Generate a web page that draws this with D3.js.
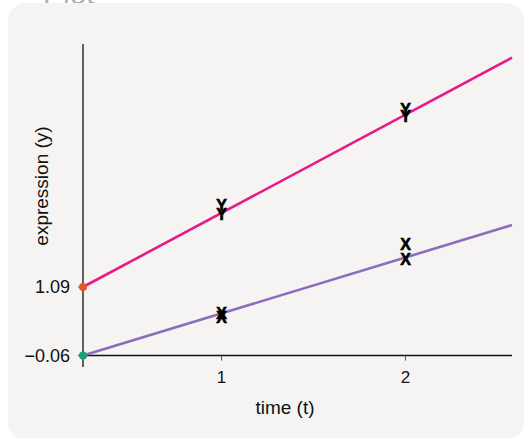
<!DOCTYPE html>
<html>
<head>
<meta charset="utf-8">
<script src="https://cdn.jsdelivr.net/npm/d3@7"></script>
<style>
  body { margin: 0; background: #fff; }
  svg { display: block; font-family: "Liberation Sans", Arial, sans-serif; }
</style>
</head>
<body>
<svg id="chart" width="526" height="438"></svg>
<script>
// x ticks shown on the time axis
const xTicks = [1, 2];
// y ticks shown on the expression axis
const yTicks = [-0.06, 1.09];
const yTickLabels = ['\u22120.06', '1.09'];

// fitted lines: [t, y] at the axis start and the right end
const lineY = [[0.247, 1.09], [2.579, 4.94]];
const lineX = [[0.247, -0.06], [2.579, 2.13]];

// observed points, drawn as letters
const pointsY = [[1, 2.47], [1, 2.32], [2, 4.08], [2, 3.95]];
const pointsX = [[1, 0.65], [1, 0.59], [2, 1.81], [2, 1.56]];

const svg = d3.select('#chart');

// title partly hidden behind the panel
svg.append('text')
  .attr('x', 43).attr('y', 4)
  .attr('font-size', 30)
  .attr('fill', '#b0b0b0')
  .text('Plot');

svg.append('rect')
  .attr('x', 8).attr('y', 3)
  .attr('width', 516).attr('height', 437)
  .attr('rx', 18)
  .attr('fill', '#f5f4f2');

const x = d3.scaleLinear().domain([0.247, 2.579]).range([83, 512]);
const y = d3.scaleLinear().domain([-0.06, 5.17]).range([355.5, 44]);

// axes
svg.append('line')
  .attr('x1', x(0.247)).attr('x2', x(0.247))
  .attr('y1', y(5.17)).attr('y2', 367)
  .attr('stroke', '#111').attr('stroke-width', 1.3);
svg.append('line')
  .attr('x1', x(0.247)).attr('x2', x(2.579))
  .attr('y1', y(-0.06)).attr('y2', y(-0.06))
  .attr('stroke', '#111').attr('stroke-width', 1.5);

const xAxis = svg.append('g');
xTicks.forEach(t => {
  xAxis.append('line')
    .attr('x1', x(t)).attr('x2', x(t))
    .attr('y1', y(-0.06)).attr('y2', y(-0.06) + 5)
    .attr('stroke', '#555').attr('stroke-width', 1);
  xAxis.append('text')
    .attr('x', x(t)).attr('y', 383)
    .attr('text-anchor', 'middle')
    .attr('font-size', 17)
    .attr('fill', '#111')
    .text(t);
});

const yAxis = svg.append('g');
yTicks.forEach((v, i) => {
  yAxis.append('line')
    .attr('x1', x(0.247) - 5).attr('x2', x(0.247))
    .attr('y1', y(v)).attr('y2', y(v))
    .attr('stroke', '#555').attr('stroke-width', 1);
  yAxis.append('text')
    .attr('x', 70).attr('y', y(v))
    .attr('dy', '0.36em')
    .attr('text-anchor', 'end')
    .attr('font-size', 18)
    .attr('fill', '#111')
    .text(yTickLabels[i]);
});

svg.append('text')
  .attr('x', 285).attr('y', 414)
  .attr('text-anchor', 'middle')
  .attr('font-size', 19)
  .attr('fill', '#111')
  .text('time (t)');

svg.append('text')
  .attr('transform', 'translate(48,186) rotate(-90)')
  .attr('text-anchor', 'middle')
  .attr('font-size', 19)
  .attr('fill', '#111')
  .text('expression (y)');

// lines
const line = d3.line().x(d => x(d[0])).y(d => y(d[1]));
svg.append('path').datum(lineX)
  .attr('d', line)
  .attr('fill', 'none').attr('stroke', '#8b6cbd').attr('stroke-width', 2.6);
svg.append('path').datum(lineY)
  .attr('d', line)
  .attr('fill', 'none').attr('stroke', '#e8198b').attr('stroke-width', 2.6);

// intercept dots
svg.append('circle')
  .attr('cx', x(lineY[0][0])).attr('cy', y(lineY[0][1])).attr('r', 4)
  .attr('fill', '#e5562a');
svg.append('circle')
  .attr('cx', x(lineX[0][0])).attr('cy', y(lineX[0][1])).attr('r', 4)
  .attr('fill', '#1b9e77');

// letter markers
function letters(data, ch) {
  svg.append('g').selectAll('text')
    .data(data)
    .enter()
    .append('text')
    .attr('x', d => x(d[0]))
    .attr('y', d => y(d[1]))
    .attr('dy', '0.36em')
    .attr('text-anchor', 'middle')
    .attr('font-size', 16)
    .attr('font-weight', 'bold')
    .attr('fill', '#000')
    .attr('stroke', '#000')
    .attr('stroke-width', 0.6)
    .text(ch);
}
letters(pointsY, 'Y');
letters(pointsX, 'X');
</script>
</body>
</html>
